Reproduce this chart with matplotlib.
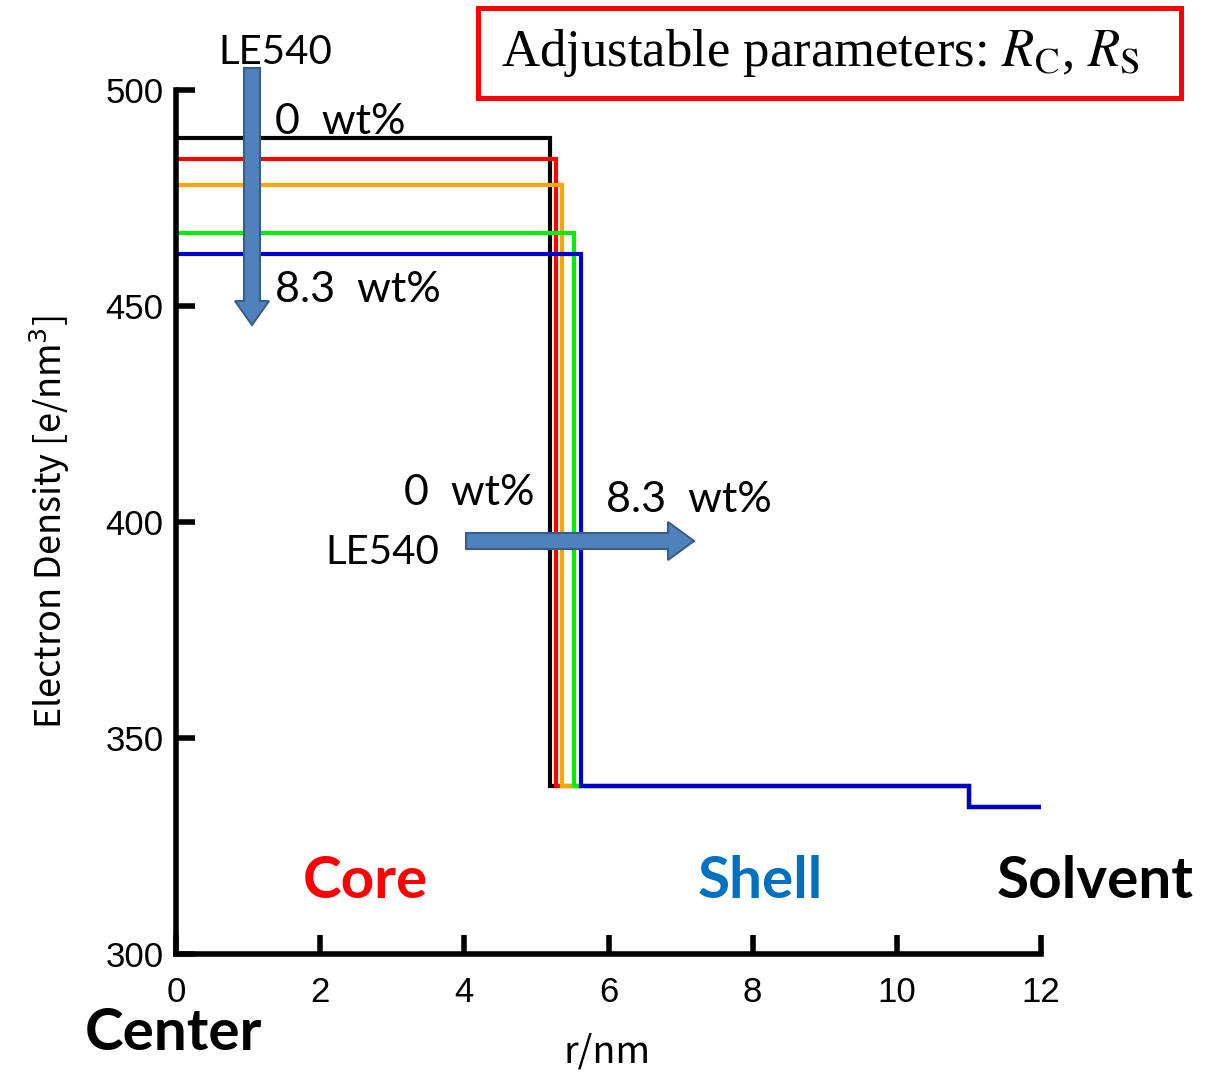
import matplotlib
matplotlib.use("Agg")
import matplotlib.pyplot as plt
from matplotlib.patches import FancyArrow, Rectangle

# ---- data ----
series_names = ["0 wt%", "s2", "s3", "s4", "8.3 wt%"]
series_colors = ["#000000", "#FF0000", "#FFA500", "#00EE00", "#0000CC"]
core_density = [489, 484, 478, 467, 462]
core_radius = [5.19, 5.27, 5.35, 5.52, 5.62]
shell_density = [339, 339, 339, 339, 339]
shell_radius = [11.0, 11.0, 11.0, 11.0, 11.0]
solvent_density = [334, 334, 334, 334, 334]
r_max = 12.0
x_ticks = [0, 2, 4, 6, 8, 10, 12]
y_ticks = [300, 350, 400, 450, 500]

W, H = 1211, 1074
fig = plt.figure(figsize=(W / 100, H / 100), dpi=100)
ax = fig.add_axes([176 / W, 1 - 954 / H, (1041 - 176) / W, (954 - 90) / H])

for i in range(len(series_names)):
    xs = [0, core_radius[i], core_radius[i], shell_radius[i], shell_radius[i], r_max]
    ys = [core_density[i], core_density[i], shell_density[i], shell_density[i],
          solvent_density[i], solvent_density[i]]
    ax.plot(xs, ys, color=series_colors[i], lw=3.0, solid_joinstyle="miter",
            solid_capstyle="butt", zorder=2 + i, clip_on=False)

ax.set_xlim(0, 12)
ax.set_ylim(300, 500)
ax.set_xticks(x_ticks)
ax.set_yticks(y_ticks)
ax.set_xticklabels([str(v) for v in x_ticks])
ax.set_yticklabels([str(v) for v in y_ticks])
for s in ["top", "right"]:
    ax.spines[s].set_visible(False)
for s in ["left", "bottom"]:
    ax.spines[s].set_linewidth(4.0)
    ax.spines[s].set_zorder(10)
ax.tick_params(direction="in", length=14, width=4.0, labelsize=25)
ax.tick_params(axis="y", pad=9)
ax.tick_params(axis="x", pad=16)
for lab in ax.get_xticklabels() + ax.get_yticklabels():
    lab.set_family("Liberation Sans")

# overlay in pixel coordinates for annotations
ov = fig.add_axes([0, 0, 1, 1], facecolor="none")
ov.set_xlim(0, W)
ov.set_ylim(H, 0)
ov.axis("off")

ov.text(607, 1052, "r/nm", fontsize=27, family="Noto Sans CJK JP",
        ha="center", va="center")
ov.text(50, 522, r"Electron Density [e/nm$^3$]", fontsize=26,
        family="Noto Sans CJK JP", ha="center", va="center", rotation=90)

cal = "Lato"
ov.text(218, 52, "LE540", fontsize=29, family=cal, ha="left", va="center")
ov.text(275, 122, "0  wt%", fontsize=31, family=cal, ha="left", va="center")
ov.text(275, 290, "8.3  wt%", fontsize=31, family=cal, ha="left", va="center")
ov.text(535, 493, "0  wt%", fontsize=31, family=cal, ha="right", va="center")
ov.text(606, 500, "8.3  wt%", fontsize=31, family=cal, ha="left", va="center")
ov.text(325, 552, "LE540", fontsize=29, family=cal, ha="left", va="center")

ov.text(365, 882, "Core", fontsize=42, family=cal, weight="bold", color="#FF0000",
        ha="center", va="center")
ov.text(760, 882, "Shell", fontsize=42, family=cal, weight="bold", color="#0070C0",
        ha="center", va="center")
ov.text(1095, 882, "Solvent", fontsize=42, family=cal, weight="bold", color="black",
        ha="center", va="center")
ov.text(173, 1034, "Center", fontsize=42, family=cal, weight="bold", color="black",
        ha="center", va="center")

# arrows
ov.add_patch(FancyArrow(252, 68, 0, 257, width=16, head_width=34, head_length=24,
                        length_includes_head=True, facecolor="#4F81BD",
                        edgecolor="#385D8A", lw=1.5, zorder=20))
ov.add_patch(FancyArrow(466, 541, 228, 0, width=16, head_width=38, head_length=26,
                        length_includes_head=True, facecolor="#4F81BD",
                        edgecolor="#385D8A", lw=1.5, zorder=20))

# red box
ov.add_patch(Rectangle((478, 8), 703, 90, fill=False, edgecolor="#FF0000", lw=3.6))
ov.text(820, 53, r"Adjustable parameters: $R_{\mathrm{C}}$, $R_{\mathrm{S}}$",
        fontsize=38, family="Liberation Serif", ha="center", va="center",
        math_fontfamily="stix")

fig.savefig("out.png", dpi=100)
